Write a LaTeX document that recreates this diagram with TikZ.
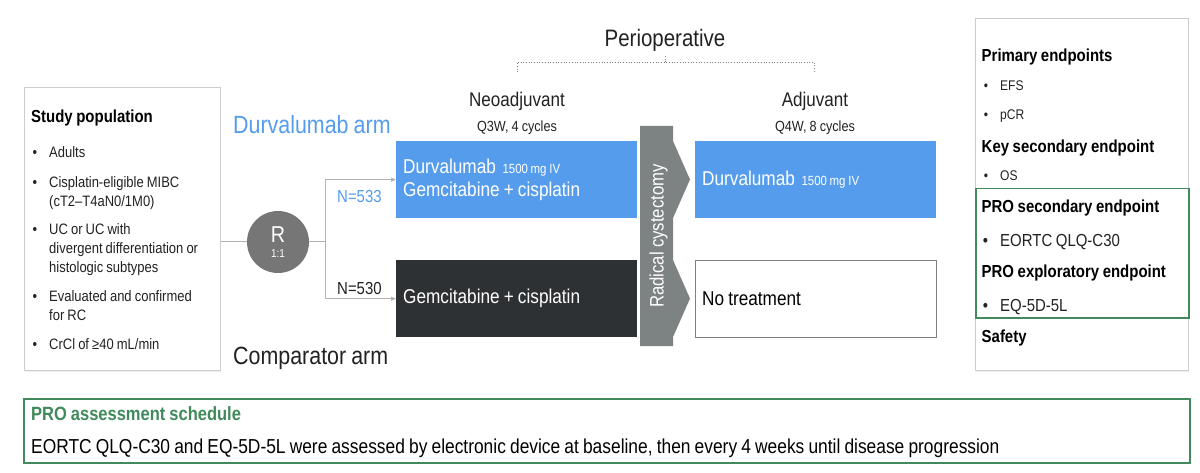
\documentclass[tikz,border=0pt]{standalone}
\usepackage{fontspec}
\setmainfont{Liberation Sans}[FakeStretch=0.86,WordSpace=0.86]
\usetikzlibrary{arrows.meta,positioning,calc,shadows}
\definecolor{armBlue}{RGB}{85,157,236}
\definecolor{armDark}{RGB}{46,49,51}
\definecolor{barGrey}{RGB}{125,130,130}
\definecolor{randGrey}{RGB}{118,118,118}
\definecolor{proGreen}{RGB}{64,138,92}
\definecolor{lineGrey}{RGB}{178,178,178}
\definecolor{boxGrey}{RGB}{205,205,205}
\definecolor{txtDark}{RGB}{34,34,34}
\newcommand{\fz}[2]{\fontsize{#1}{#2}\selectfont}
\newcommand{\bul}{\llap{\textbullet\hspace{12pt}}}
\newcommand{\dose}{\hspace{2.5pt}\mbox{\fz{13.3}{16}1500 mg IV}}

\begin{document}
\begin{tikzpicture}[x=1pt,y=-1pt,
  panel/.style={
    draw=boxGrey,
    line width=1pt,
    fill=white,
    anchor=north west,
    inner sep=0pt,
    drop shadow={opacity=0.12,shadow xshift=0.5pt,shadow yshift=-1.5pt}
  },
  probox/.style={draw=proGreen,line width=1.5pt,anchor=north west,inner sep=0pt},
  armbox/.style={
    anchor=north west,
    minimum height=77,
    inner xsep=7pt,
    inner ysep=0pt,
    text width=227,
    align=flush left,
    font=\fz{20}{23.5}
  },
  hd/.style={anchor=base west,inner sep=0pt,font=\bfseries\fz{17.4}{20},text=black},
  item/.style={anchor=north west,inner sep=0pt,align=flush left,font=\fz{15.1}{19},text=txtDark},
  ep/.style={anchor=base west,inner sep=0pt,font=\fz{14}{17},text=txtDark},
  armlabel/.style={anchor=base west,inner sep=0pt,font=\fz{24.9}{28}},
  phase/.style={anchor=base,inner sep=0pt,font=\fz{19.8}{23},text=txtDark},
  sched/.style={anchor=base,inner sep=0pt,font=\fz{14.7}{17},text=txtDark},
  link/.style={draw=lineGrey,line width=1pt},
  flow/.style={link,-{Triangle[length=5pt,width=4pt]}},
  bracket/.style={draw=gray,dotted,line width=0.7pt}
]
  \fill[white] (0,0) rectangle (1200,473);
  \useasboundingbox (0,0) rectangle (1200,473);

  % study population
  \node[panel,minimum width=196,minimum height=283] (pop) at (24,87) {};
  \node[hd] (popTitle) at (31,122.9) {Study population};
  \node[item] (popA) at (49,143.8) {\bul\strut Adults};
  \node[item] (popB) at (49,173.8) {\bul\strut Cisplatin-eligible MIBC\\(cT2--T4aN0/1M0)};
  \node[item] (popC) at (49,221.4) {\bul\strut UC or UC with\\divergent differentiation or\\histologic subtypes};
  \node[item] (popD) at (49,288.1) {\bul\strut Evaluated and confirmed\\for RC};
  \node[item] (popE) at (49,336.1) {\bul\strut CrCl of ≥40 mL/min};

  % randomisation
  \node[circle,fill=randGrey,minimum size=62,inner sep=0pt] (rand) at (278,242) {};
  \node[anchor=base,inner sep=0pt,text=white,font=\fz{23}{26}] (randR) at (278,243) {R};
  \node[anchor=base,inner sep=0pt,text=white,font=\fz{11.5}{13}] (randRatio) at (278,257.5) {1:1};
  \coordinate (split) at (325,242);

  \node[armlabel,text=armBlue] (armDurva) at (233,133.2) {Durvalumab arm};
  \node[armlabel,text=txtDark] (armComp) at (233,364.9) {Comparator arm};
  \node[anchor=base west,inner sep=0pt,font=\fz{17.4}{20},text=armBlue] (nDurva) at (337,202.2) {N=533};
  \node[anchor=base west,inner sep=0pt,font=\fz{17.4}{20},text=txtDark] (nComp) at (337,294.2) {N=530};

  % treatment boxes
  \node[armbox,fill=armBlue,text=white] (neoDurva) at (396,141)
    {Durvalumab \dose\\Gemcitabine + cisplatin};
  \node[armbox,fill=armDark,text=white] (neoComp) at (396,260) {Gemcitabine + cisplatin};
  \node[armbox,fill=armBlue,text=white] (adjDurva) at (695,141) {Durvalumab \dose};
  \node[armbox,draw=gray,fill=white,text=black] (adjComp) at (695,260) {No treatment};

  \draw[link] (pop.east |- rand) -- (rand);
  \draw[link] (rand) -- (split);
  \draw[flow] (split) |- (neoDurva.west);
  \draw[flow] (split) |- (neoComp.west);

  % radical cystectomy
  \fill[barGrey] (640,126) -- (673,126) -- (673,141) -- (690,179.5) -- (673,218)
    -- (673,260) -- (690,298.5) -- (673,337) -- (673,346) -- (640,346) -- cycle;
  \node[rotate=90,anchor=base,inner sep=0pt,text=white,font=\fz{19.5}{22}] (cyst) at (663.5,236) {Radical cystectomy};

  % phases
  \node[anchor=base,inner sep=0pt,font=\fz{23.8}{27},text=txtDark] (periop) at (665,46.5) {Perioperative};
  \coordinate (brL) at (517,72);
  \coordinate (brR) at (814,72);
  \draw[bracket] (brL) -- ++(0,-10) -| (brR);
  \draw[bracket] (665.5,62) -- ++(0,-7);
  \node[phase] (neoTitle) at (517,106.1) {Neoadjuvant};
  \node[sched] (neoSched) at (517,131.3) {Q3W, 4 cycles};
  \node[phase] (adjTitle) at (815,106.1) {Adjuvant};
  \node[sched] (adjSched) at (815,131.3) {Q4W, 8 cycles};

  % endpoints
  \node[panel,minimum width=213,minimum height=352] (ends) at (975,18) {};
  \node[probox,minimum width=213,minimum height=129] (proEnd) at (975,188) {};
  \node[hd] (epPrim) at (981.5,61.2) {Primary endpoints};
  \node[ep] (epEFS) at (1000,91) {\bul EFS};
  \node[ep] (epPCR) at (1000,120) {\bul pCR};
  \node[hd] (epKey) at (981.5,152.9) {Key secondary endpoint};
  \node[ep] (epOS) at (1000,181) {\bul OS};
  \node[hd] (epProSec) at (981.5,212.9) {PRO secondary endpoint};
  \node[ep,font=\fz{17.4}{20}] (epQLQ) at (1000,246.2) {\bul EORTC QLQ-C30};
  \node[hd] (epProExp) at (981.5,277.9) {PRO exploratory endpoint};
  \node[ep,font=\fz{17.4}{20}] (epEQ) at (1000,311.2) {\bul EQ-5D-5L};
  \node[hd] (epSafe) at (981.5,342.9) {Safety};

  % PRO assessment schedule
  \node[probox,minimum width=1166,minimum height=64] (schedule) at (23,398) {};
  \node[hd,text=proGreen,font=\bfseries\fz{19.2}{22}] (schedTitle) at (31,420.9) {PRO assessment schedule};
  \node[anchor=base west,inner sep=0pt,font=\fz{20.2}{23},text=black] (schedText) at (31,453.2)
    {EORTC QLQ-C30 and EQ-5D-5L were assessed by electronic device at baseline, then every 4 weeks until disease progression};
\end{tikzpicture}
\end{document}
